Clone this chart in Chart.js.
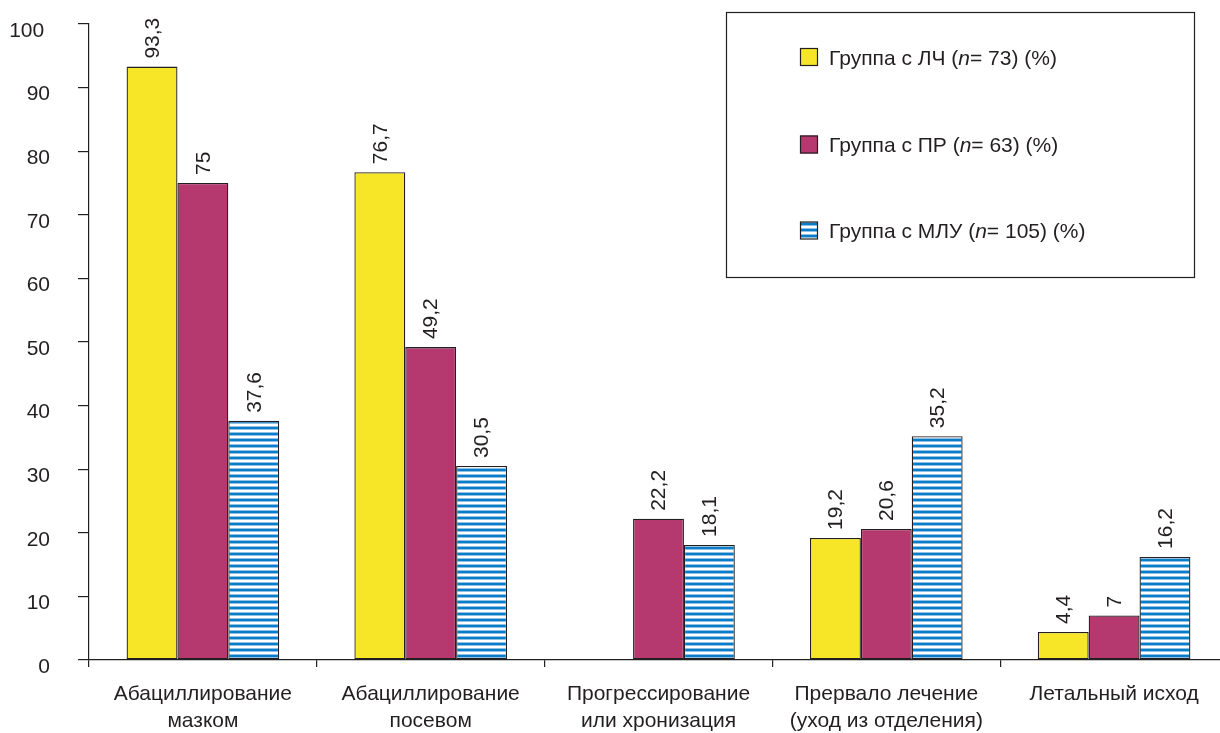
<!DOCTYPE html>
<html>
<head>
<meta charset="utf-8">
<script src="https://cdn.jsdelivr.net/npm/chart.js@4/dist/chart.umd.min.js"></script>
<style>
  html, body { margin: 0; padding: 0; overflow: hidden; background: #fff; width: 1220px; height: 733px; }
  canvas { display: block; }
</style>
</head>
<body>
<canvas id="chart" width="1232" height="733"></canvas>
<script>
// Outcome categories (two-line axis labels)
const categories = [
  ["Абациллирование", "мазком"],
  ["Абациллирование", "посевом"],
  ["Прогрессирование", "или хронизация"],
  ["Прервало лечение", "(уход из отделения)"],
  ["Летальный исход"]
];

// Group names
const seriesNames = [
  "Группа с ЛЧ (n= 73) (%)",
  "Группа с ПР (n= 63) (%)",
  "Группа с МЛУ (n= 105) (%)"
];

// Percentages per group
const valuesLCh = [93.3, 76.7, null, 19.2, 4.4];
const valuesPR  = [75, 49.2, 22.2, 20.6, 7];
const valuesMLU = [37.6, 30.5, 18.1, 35.2, 16.2];

// Y axis tick values
const yTicks = [0, 10, 20, 30, 40, 50, 60, 70, 80, 90, 100];

const INK = '#231f20';
const FONT_FAMILY = '"Liberation Sans", Arial, Helvetica, sans-serif';
const FONT_SIZE = 21;

// Horizontal blue stripes used for the third group
function makeStripes() {
  const p = document.createElement('canvas');
  p.width = 6; p.height = 6;
  const g = p.getContext('2d');
  g.fillStyle = '#ffffff'; g.fillRect(0, 0, 6, 6);
  g.fillStyle = '#8fc1e6'; g.fillRect(0, 0, 6, 1);
  g.fillStyle = '#0a7dc6'; g.fillRect(0, 1, 6, 2);
  g.fillStyle = '#8fc1e6'; g.fillRect(0, 3, 6, 1);
  return document.getElementById('chart').getContext('2d').createPattern(p, 'repeat');
}
const stripes = makeStripes();

// Rotated value labels above each bar
const valueLabels = {
  id: 'valueLabels',
  afterDatasetsDraw(chart) {
    const ctx = chart.ctx;
    ctx.save();
    ctx.font = FONT_SIZE + 'px ' + FONT_FAMILY;
    ctx.fillStyle = INK;
    ctx.textAlign = 'left';
    ctx.textBaseline = 'middle';
    chart.data.datasets.forEach((ds, di) => {
      const meta = chart.getDatasetMeta(di);
      meta.data.forEach((bar, i) => {
        const v = ds.data[i];
        if (v === null || v === undefined) return;
        ctx.save();
        ctx.translate(bar.x + 1, bar.y - 8);
        ctx.rotate(-Math.PI / 2);
        ctx.fillText(String(v).replace('.', ','), 0, 0);
        ctx.restore();
      });
    });
    ctx.restore();
  }
};

// Framed legend with italic "n"
const boxedLegend = {
  id: 'boxedLegend',
  afterDraw(chart) {
    const ctx = chart.ctx;
    ctx.save();
    ctx.strokeStyle = INK;
    ctx.lineWidth = 1.2;
    ctx.strokeRect(726.5, 12.5, 468, 265);
    const centers = [57, 144.5, 230.5];
    chart.data.datasets.forEach((ds, i) => {
      const cy = centers[i];
      ctx.fillStyle = ds.backgroundColor;
      ctx.fillRect(800, cy - 9, 18, 18);
      ctx.lineWidth = 1.2;
      ctx.strokeStyle = INK;
      ctx.strokeRect(800.5, cy - 8.5, 17, 17);
      const label = ds.label;
      const k = label.indexOf('n=');
      const parts = [
        [label.slice(0, k), 'normal'],
        ['n', 'italic'],
        [label.slice(k + 1), 'normal']
      ];
      let x = 829;
      ctx.fillStyle = INK;
      ctx.textBaseline = 'middle';
      ctx.textAlign = 'left';
      parts.forEach(([t, style]) => {
        ctx.font = style + ' ' + FONT_SIZE + 'px ' + FONT_FAMILY;
        ctx.fillText(t, x, cy + 2);
        x += ctx.measureText(t).width;
      });
    });
    ctx.restore();
  }
};

const font = { family: FONT_FAMILY, size: FONT_SIZE, lineHeight: 1.29 };

new Chart(document.getElementById('chart'), {
  type: 'bar',
  data: {
    labels: categories,
    datasets: [
      { label: seriesNames[0], data: valuesLCh, backgroundColor: '#f6e627' },
      { label: seriesNames[1], data: valuesPR,  backgroundColor: '#b5386f' },
      { label: seriesNames[2], data: valuesMLU, backgroundColor: stripes }
    ]
  },
  options: {
    responsive: false,
    animation: false,
    devicePixelRatio: 1,
    layout: { padding: { top: 24, right: 4, left: 0, bottom: 0 } },
    datasets: {
      bar: {
        barPercentage: 1,
        categoryPercentage: 0.67,
        borderColor: INK,
        borderWidth: 1.3,
        borderSkipped: false
      }
    },
    plugins: {
      legend: { display: false },
      tooltip: { enabled: false }
    },
    scales: {
      x: {
        grid: { drawOnChartArea: false, drawTicks: true, tickLength: 7, color: INK, lineWidth: 1.2, offset: true },
        border: { color: INK, width: 1.2 },
        ticks: { font: font, color: INK, padding: 14, maxRotation: 0, autoSkip: false },
        afterFit(s) { s.height = 73; s.paddingLeft = 0; s.paddingRight = 0; }
      },
      y: {
        min: 0,
        max: 100,
        afterBuildTicks(s) { s.ticks = yTicks.map(v => ({ value: v })); },
        grid: { drawOnChartArea: false, drawTicks: true, tickLength: 11, color: INK, lineWidth: 1.2 },
        border: { color: INK, width: 1.2 },
        ticks: {
          font: font, color: INK, padding: 28, labelOffset: 7,
          callback: (v) => (v === 100 ? '100 ' : String(v))
        },
        afterFit(s) { s.width = 89; s.paddingTop = 0; s.paddingBottom = 0; }
      }
    }
  },
  plugins: [valueLabels, boxedLegend]
});
</script>
</body>
</html>
